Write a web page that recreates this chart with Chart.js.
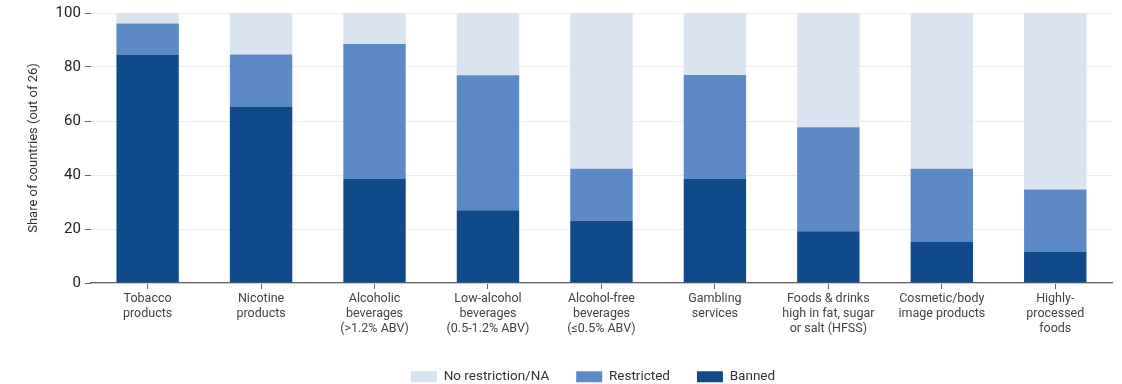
<!DOCTYPE html>
<html>
<head>
<meta charset="utf-8">
<script src="https://cdn.jsdelivr.net/npm/chart.js@4"></script>
<style>
    html, body { margin: 0; padding: 0; background: #fff; }
    .wrap { width: 1122px; height: 384px; position: relative; }
</style>
</head>
<body>
<div class="wrap"><canvas id="policyChart"></canvas></div>
<script>
const categories = [
    ['Tobacco', 'products'],
    ['Nicotine', 'products'],
    ['Alcoholic', 'beverages', '(>1.2% ABV)'],
    ['Low-alcohol', 'beverages', '(0.5-1.2% ABV)'],
    ['Alcohol-free', 'beverages', '(\u22640.5% ABV)'],
    ['Gambling', 'services'],
    ['Foods & drinks', 'high in fat, sugar', 'or salt (HFSS)'],
    ['Cosmetic/body', 'image products'],
    ['Highly-', 'processed', 'foods']
];

// share of 26 countries, in %
const banned = [84.6, 65.4, 38.5, 26.9, 23.1, 38.5, 19.2, 15.4, 11.5];
const restricted = [11.5, 19.2, 50.0, 50.0, 19.2, 38.5, 38.5, 26.9, 23.1];
const noRestriction = [3.9, 15.4, 11.5, 23.1, 57.7, 23.0, 42.3, 57.7, 65.4];

const yTicks = [0, 20, 40, 60, 80, 100];

Chart.defaults.font.family = 'Roboto, "Open Sans", sans-serif';
Chart.defaults.color = '#333';

// squeeze the legend box and nudge it, like the original
const legendTweak = {
    id: 'legendTweak',
    beforeInit: function (chart) {
        const legend = chart.legend;
        if (!legend) return;
        const fit = legend.fit;
        legend.fit = function () {
            fit.call(this);
            this.height = 41;
        };
    },
    afterLayout: function (chart) {
        const legend = chart.legend;
        if (!legend) return;
        legend.left += 24;
        legend.right += 24;
        legend.top += 5;
        legend.bottom += 5;
    }
};

const ctx = document.getElementById('policyChart');
new Chart(ctx, {
    type: 'bar',
    data: {
        labels: categories,
        datasets: [
            { label: 'Banned', data: banned, backgroundColor: '#114a8a', categoryPercentage: 0.55, barPercentage: 1 },
            { label: 'Restricted', data: restricted, backgroundColor: '#5b8ac6', categoryPercentage: 0.55, barPercentage: 1 },
            { label: 'No restriction/NA', data: noRestriction, backgroundColor: '#d9e4f0', categoryPercentage: 0.55, barPercentage: 1 }
        ]
    },
    options: {
        responsive: true,
        maintainAspectRatio: false,
        animation: false,
        layout: { padding: { top: 6, right: 10, left: 26, bottom: 5 } },
        plugins: {
            tooltip: { enabled: false },
            legend: {
                position: 'bottom',
                reverse: true,
                labels: {
                    boxWidth: 26,
                    boxHeight: 11,
                    padding: 27,
                    color: '#333',
                    font: { size: 13.5 }
                }
            }
        },
        scales: {
            x: {
                stacked: true,
                grid: { drawOnChartArea: false, offset: false, tickLength: 6, tickColor: '#666' },
                border: { color: '#666', width: 1.2 },
                ticks: { color: '#444', font: { size: 12.5, lineHeight: 1.2 }, maxRotation: 0, autoSkip: false, padding: 2 }
            },
            y: {
                stacked: true,
                min: 0,
                max: 100,
                afterBuildTicks: function (axis) {
                    axis.ticks = yTicks.map(function (v) { return { value: v }; });
                },
                grid: { color: '#ececec', tickColor: '#666', tickLength: 6 },
                border: { display: false },
                ticks: { color: '#222', font: { size: 15 }, padding: 4 },
                title: {
                    display: true,
                    text: 'Share of countries (out of 26)',
                    color: '#333',
                    font: { size: 13 },
                    padding: { top: 0, bottom: 10 }
                }
            }
        }
    },
    plugins: [legendTweak]
});
</script>
</body>
</html>
